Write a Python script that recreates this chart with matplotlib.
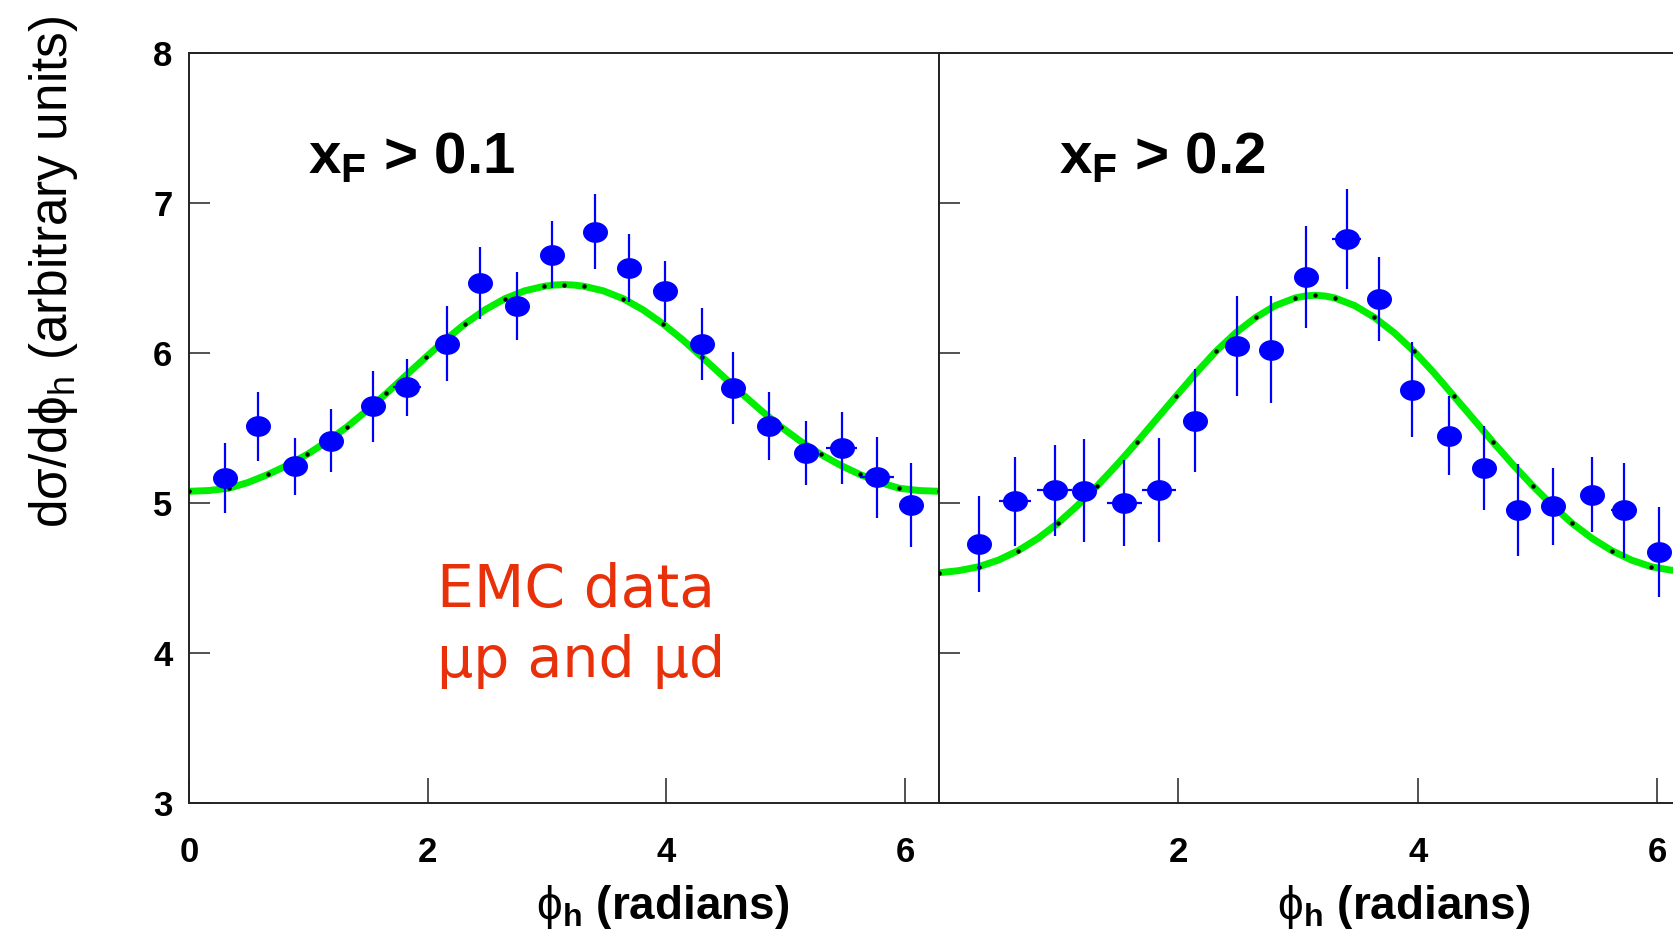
import numpy as np
import matplotlib
matplotlib.use("Agg")
import matplotlib.pyplot as plt
from matplotlib.path import Path

# ---------------- data ----------------
# panel 1: x_F > 0.1
phi1 = [0.30, 0.577, 0.886, 1.19, 1.54, 1.825, 2.16, 2.44, 2.75, 3.045,
        3.40, 3.69, 3.985, 4.295, 4.559, 4.863, 5.172, 5.467, 5.765, 6.05]
val1 = [5.167, 5.511, 5.244, 5.416, 5.644, 5.771, 6.062, 6.467, 6.311, 6.656,
        6.807, 6.567, 6.411, 6.062, 5.767, 5.511, 5.333, 5.367, 5.171, 4.989]
err1 = [0.235, 0.232, 0.19, 0.21, 0.235, 0.19, 0.249, 0.237, 0.226, 0.222,
        0.25, 0.228, 0.205, 0.239, 0.238, 0.227, 0.214, 0.239, 0.272, 0.28]
xerr1 = [0.08, 0.10, 0.08, 0.08, 0.08, 0.12, 0.08, 0.08, 0.08, 0.08,
         0.08, 0.08, 0.095, 0.08, 0.08, 0.08, 0.08, 0.13, 0.14, 0.08]
# fit curve (every other point carries a black dot)
fit_phi1 = [0.0, 0.165, 0.331, 0.496, 0.661, 0.827, 0.992, 1.157, 1.323, 1.488,
            1.653, 1.818, 1.984, 2.15, 2.315, 2.48, 2.646, 2.81, 2.976, 3.06,
            3.142, 3.225, 3.307, 3.473, 3.638, 3.803, 3.968, 4.134, 4.299, 4.465,
            4.630, 4.795, 4.960, 5.126, 5.291, 5.457, 5.622, 5.787, 5.952, 6.118, 6.283]
fit_val1 = [5.078, 5.083, 5.098, 5.137, 5.19, 5.252, 5.325, 5.41, 5.507, 5.615,
            5.73, 5.851, 5.972, 6.089, 6.196, 6.288, 6.362, 6.414, 6.445, 6.453,
            6.456, 6.453, 6.445, 6.414, 6.362, 6.288, 6.196, 6.089, 5.972, 5.851,
            5.73, 5.615, 5.507, 5.41, 5.325, 5.252, 5.19, 5.137, 5.098, 5.083, 5.078]

# panel 2: x_F > 0.2
phi2 = [0.334, 0.635, 0.967, 1.21, 1.549, 1.838, 2.139, 2.493, 2.772, 3.067,
        3.406, 3.679, 3.952, 4.264, 4.556, 4.838, 5.13, 5.453, 5.726, 6.013]
val2 = [4.727, 5.011, 5.084, 5.082, 5.0, 5.089, 5.549, 6.044, 6.022, 6.507,
        6.76, 6.36, 5.756, 5.449, 5.233, 4.951, 4.978, 5.056, 4.951, 4.671]
err2 = [0.319, 0.298, 0.303, 0.344, 0.289, 0.346, 0.344, 0.333, 0.355, 0.339,
        0.333, 0.283, 0.317, 0.264, 0.28, 0.306, 0.258, 0.252, 0.317, 0.30]
xerr2 = [0.08, 0.13, 0.146, 0.08, 0.149, 0.14, 0.10, 0.08, 0.08, 0.08,
         0.12, 0.08, 0.095, 0.08, 0.08, 0.10, 0.08, 0.08, 0.11, 0.08]
fit_phi2 = fit_phi1
fit_val2 = [4.535, 4.549, 4.575, 4.619, 4.682, 4.764, 4.864, 4.983, 5.115, 5.256,
            5.405, 5.56, 5.715, 5.869, 6.012, 6.135, 6.237, 6.316, 6.367, 6.38,
            6.385, 6.38, 6.367, 6.316, 6.237, 6.135, 6.012, 5.869, 5.715, 5.56,
            5.405, 5.256, 5.115, 4.983, 4.864, 4.764, 4.682, 4.619, 4.575, 4.552, 4.545]

titles = [r"$\mathbf{x}_\mathbf{F}$ > 0.1", r"$\mathbf{x}_\mathbf{F}$ > 0.2"]
yticks = [3, 4, 5, 6, 7, 8]
xticks_left = [0, 2, 4, 6]
xticks_right = [2, 4, 6]

# ---------------- style ----------------
plt.rcParams["font.family"] = ["Liberation Sans", "DejaVu Sans"]
plt.rcParams["mathtext.fontset"] = "custom"
plt.rcParams["mathtext.rm"] = "Liberation Sans"
plt.rcParams["mathtext.bf"] = "Liberation Sans:bold"
plt.rcParams["mathtext.it"] = "Liberation Sans:italic"
plt.rcParams["mathtext.fallback"] = "stixsans"

BLUE = "#0000ff"
GREEN = "#00ee00"
RED = "#e8300a"

# elliptical marker (slightly wider than tall)
t = np.linspace(0, 2 * np.pi, 41)
ell = Path(np.column_stack([np.cos(t), 0.82 * np.sin(t)]), closed=True)

W, H = 1673, 931
fig = plt.figure(figsize=(W / 100, H / 100), dpi=100)
ax1 = fig.add_axes([189 / W, (H - 803) / H, 750 / W, 750 / H])
ax2 = fig.add_axes([939 / W, (H - 803) / H, 752 / W, 750 / H])

panels = [
    (ax1, phi1, val1, err1, xerr1, fit_phi1, fit_val1, titles[0], xticks_left),
    (ax2, phi2, val2, err2, xerr2, fit_phi2, fit_val2, titles[1], xticks_right),
]
for ax, ph, v, e, xe, fp, fv, title, xt in panels:
    ax.plot(fp, fv, color=GREEN, lw=5, solid_capstyle="butt",
            solid_joinstyle="round", zorder=2)
    ax.plot(fp[::2], fv[::2], ls="none", marker="o", ms=2.2, color="black", zorder=3)
    ax.errorbar(ph, v, yerr=e, xerr=xe, fmt="none", ecolor=BLUE, elinewidth=1.6,
                capsize=0, zorder=4)
    ax.plot(ph, v, ls="none", marker=ell, ms=17, color=BLUE, mec=BLUE, zorder=5)
    ax.set_xlim(0, 2 * np.pi)
    ax.set_ylim(3, 8)
    ax.set_yticks(yticks)
    ax.set_xticks(xt)
    ax.tick_params(axis="both", direction="in", width=1.1, color="#222222",
                   labelsize=25, top=False, right=False)
    ax.tick_params(axis="y", length=15, pad=12)
    ax.tick_params(axis="x", length=18, pad=24)
    for lab in ax.get_xticklabels() + ax.get_yticklabels():
        lab.set_fontweight("bold")
    for s in ax.spines.values():
        s.set_linewidth(1.4)
        s.set_color("#222222")
    ax.text(1.0, 7.2, title, fontsize=42, fontweight="bold", va="baseline", ha="left")

ax2.tick_params(axis="y", labelleft=False)

# axis labels
xlab = r"$\mathrm{\phi}_\mathbf{h}$ (radians)"
fig.text(663 / W, 1 - 907 / H, xlab, fontsize=33, fontweight="bold",
         ha="center", va="center")
fig.text(1404 / W, 1 - 907 / H, xlab, fontsize=33, fontweight="bold",
         ha="center", va="center")
fig.text(53 / W, 1 - 272 / H,
         r"d$\mathrm{\sigma}$/d$\mathrm{\phi}_\mathrm{h}$ (arbitrary units)",
         fontsize=37, rotation=90, ha="center", va="center")

# annotation
ax1.text(2.08, 4.31, "EMC data", color=RED, fontsize=42, family="DejaVu Sans",
         va="baseline", ha="left")
ax1.text(2.08, 3.84, "\u03bcp and \u03bcd", color=RED, fontsize=41, family="DejaVu Sans",
         va="baseline", ha="left")

fig.savefig("out.png", dpi=100)
